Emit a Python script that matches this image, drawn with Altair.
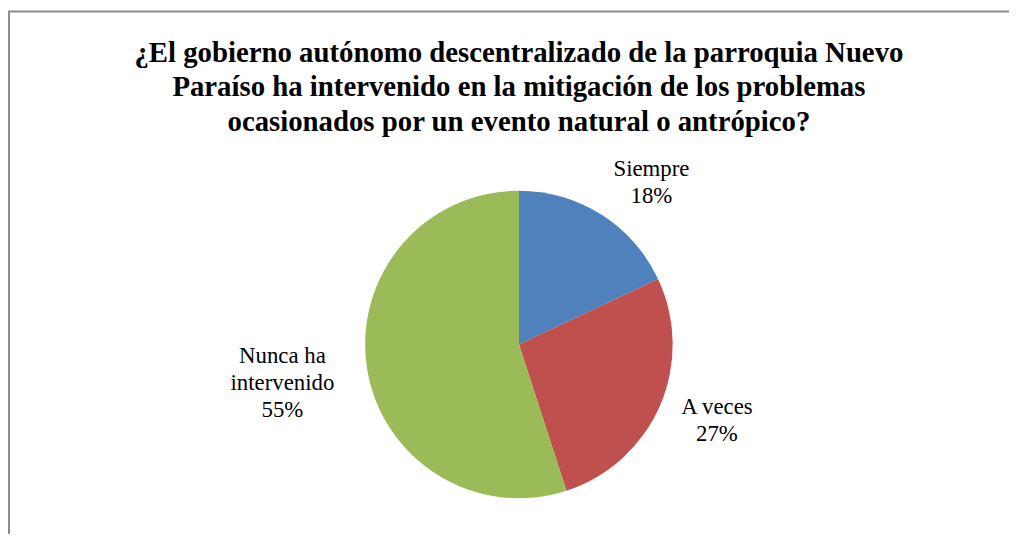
import altair as alt
import pandas as pd

categories = ["Siempre", "A veces", "Nunca ha intervenido"]
label_text = ["Siempre\n18%", "A veces\n27%", "Nunca ha\nintervenido\n55%"]
percent = [18, 27, 55]
order_idx = [1, 2, 3]
colors = ["#4F81BD", "#C0504D", "#9BBB59"]
title_lines = [
    "¿El gobierno autónomo descentralizado de la parroquia Nuevo",
    "Paraíso ha intervenido en la mitigación de los problemas",
    "ocasionados por un evento natural o antrópico?",
]

df = pd.DataFrame({"cat": categories, "val": percent, "ord": order_idx, "label": label_text})

W, H = 1009, 528
CX, CY = 515, 337
FONT = "Liberation Serif"

stacked = alt.Chart(df).transform_stack(
    stack="val", as_=["v0", "v1"], groupby=[], sort=[alt.SortField("ord")]
).transform_calculate(vm="(datum.v0 + datum.v1) / 2")

theta_scale = alt.Scale(domain=[0, 100])

pie = stacked.mark_arc(outerRadius=155).encode(
    theta=alt.Theta("v0:Q", scale=theta_scale),
    theta2="v1:Q",
    x=alt.value(CX),
    y=alt.value(CY),
    color=alt.Color("cat:N", scale=alt.Scale(domain=categories, range=colors), legend=None),
)

offsets = {"Siempre": (20, 2), "A veces": (5, -21), "Nunca ha intervenido": (-29, -21)}
label_layers = []
for c in categories:
    dx, dy = offsets[c]
    label_layers.append(
        stacked.transform_filter(alt.datum.cat == c).mark_text(
            radius=212, dx=dx, dy=dy, align="center", baseline="middle",
            font=FONT, fontSize=23, lineHeight=27, lineBreak="\n", color="black",
        ).encode(
            theta=alt.Theta("vm:Q", scale=theta_scale),
            x=alt.value(CX),
            y=alt.value(CY),
            text="label:N",
        )
    )

title = alt.Chart(pd.DataFrame({"t": [0]})).mark_text(
    text=title_lines, font=FONT, fontSize=29, fontWeight="bold", lineHeight=35,
    align="center", baseline="middle", color="black",
).encode(x=alt.value(CX), y=alt.value(43))

border_left = alt.Chart(pd.DataFrame({"t": [0]})).mark_rule(color="#8c8c8c", strokeWidth=2).encode(
    x=alt.value(1), y=alt.value(1), y2=alt.value(H)
)
border_top = alt.Chart(pd.DataFrame({"t": [0]})).mark_rule(color="#8c8c8c", strokeWidth=2).encode(
    x=alt.value(0), x2=alt.value(W), y=alt.value(1.5)
)

chart = alt.layer(border_left, border_top, pie, *label_layers, title).properties(
    width=W, height=H, padding=0, autosize=alt.AutoSizeParams(type="none"),
    background="white",
).configure_view(stroke=None)

chart.save("out.html", embed_options={"renderer": "svg", "actions": False})
